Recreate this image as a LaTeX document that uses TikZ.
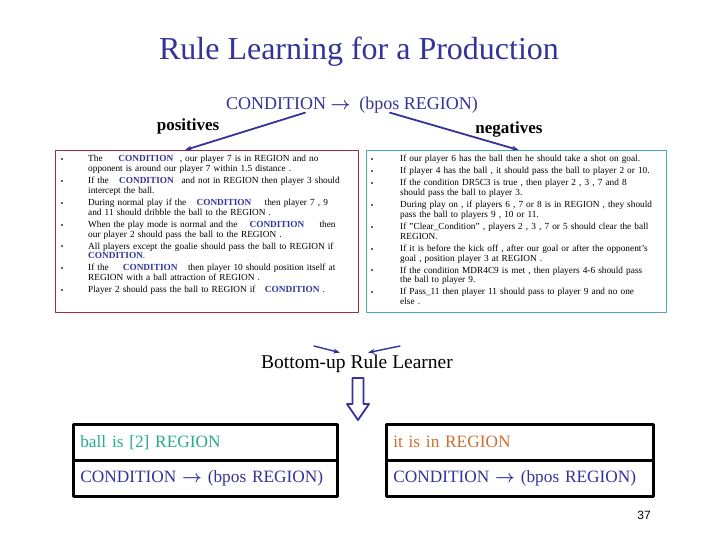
\documentclass[tikz,border=0pt]{standalone}
\usepackage{amsmath}
\usepackage{fontspec}
\setmainfont{Liberation Serif}
\newfontfamily\slidesans{Liberation Sans}
\usepackage{enumitem}
\usetikzlibrary{arrows.meta,positioning}
\definecolor{rulenavy}{RGB}{51,51,153}
\definecolor{ruleposframe}{RGB}{165,40,65}
\definecolor{rulenegframe}{RGB}{70,175,165}
\definecolor{ruleteal}{RGB}{40,170,140}
\definecolor{ruleorange}{RGB}{205,110,50}
\newcommand{\condword}{\textcolor{rulenavy}{\bfseries CONDITION}}
\newcommand{\rulebullet}{\textcolor{black!60}{\rule[1.8pt]{2pt}{2pt}}}
\newcommand{\rulearrow}{$\boldsymbol{\rightarrow}$}
\newcommand{\ruleitems}[1]{\begin{itemize}[leftmargin=#1,labelwidth=10pt,labelsep=\dimexpr#1-10pt\relax,align=left,label=\rulebullet,itemsep=2.2pt,parsep=0pt,topsep=0pt,partopsep=0pt]}
\tikzset{
  every picture/.append style={line cap=round,line join=round},
  rule title/.style={text=rulenavy,font=\fontsize{32}{36}\selectfont},
  rule head/.style={text=rulenavy,font=\fontsize{18}{21}\selectfont},
  rule side/.style={font=\fontsize{17}{20}\selectfont\bfseries},
  rule frame/.style={draw,line width=1.2pt,minimum width=303pt,minimum height=162pt,anchor=north west,inner sep=0pt},
  rule list/.style={anchor=north west,inner sep=0pt,text width=320pt,align=left,font=\fontsize{9.3}{9.8}\selectfont},
  rule link/.style={rulenavy,line width=1.8pt,-{Stealth[length=2.4mm]}},
  rule cell/.style={draw,line width=2.6pt,minimum height=36pt,anchor=north west,inner xsep=7pt,inner ysep=4pt,align=left,font=\fontsize{17.3}{20}\selectfont},
  rule note/.style={font=\fontsize{19.5}{23}\selectfont},
  rule hollow/.style={draw=rulenavy,line width=1.8pt,fill=white}
}
\begin{document}
\begin{tikzpicture}[x=1pt,y=-1pt,>=Stealth]
  \useasboundingbox (0,0) rectangle (720,540);
  \node[rule title] (title) at (359,52) {Rule Learning for a Production};
  \node[rule head] (cond) at (352,105) {CONDITION\ \rulearrow\ \ (bpos REGION)};
  \node[rule side] (pos) at (188,126) {positives};
  \node[rule side] (neg) at (509,129) {negatives};

  \node[rule frame,draw=ruleposframe] (posbox) at (55,150) {};
  \node[rule frame,draw=rulenegframe,minimum width=300pt] (negbox) at (366,150) {};
  \draw[rule link] ([xshift=-47pt,yshift=4pt]cond.south) -- ([xshift=-22pt]posbox.north);
  \draw[rule link] ([xshift=38pt,yshift=4pt]cond.south) -- ([xshift=2pt]negbox.north);

  \node[rule list] (poslist) at (61,152) {\ruleitems{27pt}
    \item The\hspace{1.7em}\condword\hspace{0.7em}, our player 7 is in REGION and no\\ opponent is around our player 7 within 1.5 distance .
    \item If the\hspace{1.1em}\condword\hspace{0.5em} and not in REGION then player 3 should\\ intercept the ball.
    \item During normal play if the\hspace{1.1em}\condword\hspace{1.1em} then player 7 , 9\\ and 11 should dribble the ball to the REGION .
    \item When the play mode is normal and the\hspace{1.3em}\condword\hspace{1.3em} then\\ our player 2 should pass the ball to the REGION .
    \item All players except the goalie should pass the ball to REGION if\\ \condword.
    \item If the\hspace{1.5em}\condword\hspace{0.8em} then player 10 should position itself at\\ REGION with a ball attraction of REGION .
    \item Player 2 should pass the ball to REGION if\hspace{1em}\condword\ .
  \end{itemize}};
  \node[rule list] (neglist) at (371,152) {\ruleitems{29pt}
    \item If our player 6 has the ball then he should take a shot on goal.
    \item If player 4 has the ball , it should pass the ball to player 2 or 10.
    \item If the condition DR5C3 is true , then player 2 , 3 , 7 and 8\\ should pass the ball to player 3.
    \item During play on , if players 6 , 7 or 8 is in REGION , they should\\ pass the ball to players 9 , 10 or 11.
    \item If "Clear\_Condition" , players 2 , 3 , 7 or 5 should clear the ball\\ REGION.
    \item If it is before the kick off , after our goal or after the opponent's\\ goal , position player 3 at REGION .
    \item If the condition MDR4C9 is met , then players 4-6 should pass\\ the ball to player 9.
    \item If Pass\_11 then player 11 should pass to player 9 and no one\\ else .
  \end{itemize}};

  \node[rule note] (learner) at (357,364) {Bottom-up Rule Learner};
  \coordinate (posfoot) at (314,346);
  \coordinate (negfoot) at (400,346);
  \draw[rule link,line width=1.4pt] (posfoot) -- ([xshift=-17pt,yshift=-1pt]learner.north);
  \draw[rule link,line width=1.4pt] (negfoot) -- ([xshift=11pt,yshift=-1pt]learner.north);
  \draw[rule hollow] (352.5,378) -- (363.5,378) -- (363.5,404) -- (369,404) -- (358,420)
    -- (347,404) -- (352.5,404) -- cycle;

  \node[rule cell,text width=250pt,text=ruleteal] (ballcell) at (72,423) {ball is [2] REGION};
  \node[rule cell,text width=250pt,text=rulenavy] (ballrule) at (72,459) {\mbox{CONDITION \rulearrow\ (bpos REGION)}};
  \node[rule cell,text width=253pt,text=ruleorange] (itcell) at (385,423) {it is in REGION};
  \node[rule cell,text width=253pt,text=rulenavy] (itrule) at (385,459) {\mbox{CONDITION \rulearrow\ (bpos REGION)}};

  \node[font=\slidesans\fontsize{12}{14}\selectfont] (page) at (644,515) {37};
\end{tikzpicture}
\end{document}
